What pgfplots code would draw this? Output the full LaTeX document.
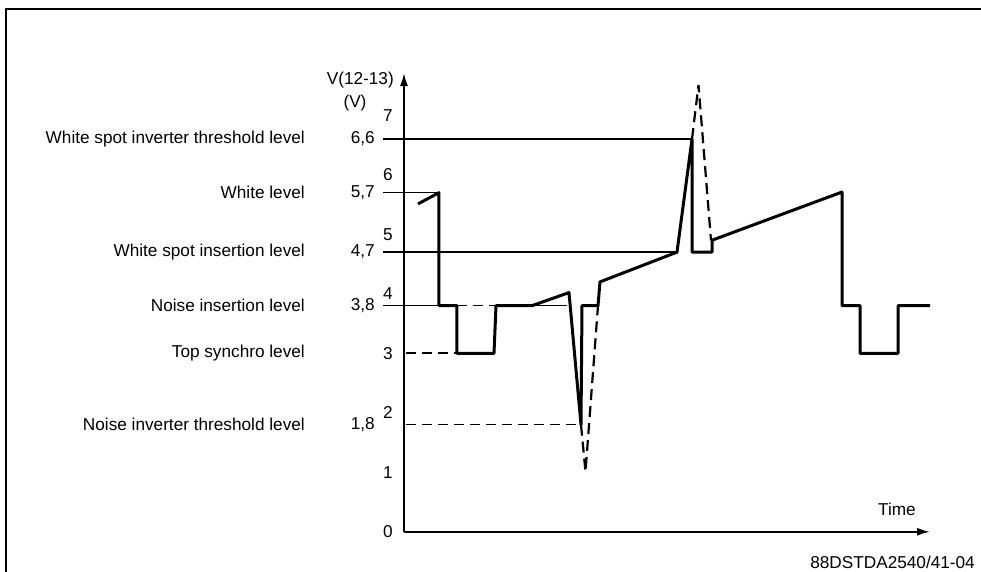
\documentclass[border=0pt]{standalone}
\usepackage{pgfplots}
\pgfplotsset{compat=1.18}
\usepackage{fontspec}
\setmainfont{Liberation Sans}
\usetikzlibrary{arrows.meta}
\begin{document}
\fontsize{17.2}{20}\selectfont
\begin{tikzpicture}
\useasboundingbox (-404pt,-40.2pt) rectangle (577pt,531.8pt);
\draw[line width=2pt] (-398pt,-45pt) -- (-398pt,522.8pt) -- (580pt,522.8pt);
\begin{axis}[
  anchor=origin, at={(0pt,0pt)},
  x=1pt, y=59.5pt,
  xmin=0, xmax=526, ymin=0, ymax=7.71,
  enlargelimits=false,
  axis lines=left,
  x axis line style={line width=1.8pt, -{Latex[length=13pt,width=8pt]}},
  y axis line style={line width=1.8pt, -{Latex[length=13pt,width=8pt]}},
  xtick=\empty,
  ytick={0,1,...,7},
  major tick length=0pt,
  yticklabel style={anchor=east, inner sep=0pt, xshift=-11pt},
  /pgf/number format/assume math mode=true,
  clip=false,
]
% reference levels
\addplot[line width=1.4pt] coordinates {(-21,6.6) (288,6.6)};
\addplot[line width=1.4pt] coordinates {(-21,5.7) (35,5.7)};
\addplot[line width=1.4pt] coordinates {(-21,4.7) (273,4.7)};
\addplot[line width=1.4pt] coordinates {(-21,3.8) (53,3.8)};
\addplot[line width=1.4pt, dash pattern=on 10pt off 6pt] coordinates {(53,3.8) (92,3.8)};
\addplot[line width=1.4pt] coordinates {(92,3.8) (163,3.8)};
\addplot[line width=1.6pt, dash pattern=on 10pt off 6pt] coordinates {(2,3.0) (53,3.0)};
\addplot[line width=1.6pt, dash pattern=on 10pt off 6pt] coordinates {(2,1.8) (177,1.8)};
% dashed inverter excursions
\addplot[line width=2.2pt, dash pattern=on 11pt off 6pt] coordinates {(177,1.8) (181.5,1.01) (194,3.8)};
\addplot[line width=2.2pt, dash pattern=on 11pt off 6pt] coordinates {(288,6.6) (294.5,7.51) (307,4.9)};
% waveform
\addplot[line width=3pt, line join=round] coordinates {
 (14,5.51) (35,5.70) (35,3.8) (53,3.8) (53,3.0) (90,3.0) (92,3.8) (128,3.8)
 (165,4.02) (177,1.8) (178,3.8) (194,3.8) (196,4.2) (273,4.7) (288,6.6)
 (288,4.7) (308,4.7) (308,4.9) (438,5.71) (438,3.8) (456,3.8) (456,3.0)
 (494,3.0) (494,3.8) (526,3.8)};
% level names
\node[anchor=east, inner sep=0pt] at (axis cs:-99,6.6) {White spot inverter threshold level};
\node[anchor=east, inner sep=0pt] at (axis cs:-99,5.7) {White level};
\node[anchor=east, inner sep=0pt] at (axis cs:-99,4.7) {White spot insertion level};
\node[anchor=east, inner sep=0pt] at (axis cs:-99,3.8) {Noise insertion level};
\node[anchor=east, inner sep=0pt] at (axis cs:-99,3.0) {Top synchro level};
\node[anchor=east, inner sep=0pt] at (axis cs:-99,1.8) {Noise inverter threshold level};
% level values
\node[anchor=east, inner sep=0pt] at (axis cs:-29,6.6) {6,6};
\node[anchor=east, inner sep=0pt] at (axis cs:-29,5.7) {5,7};
\node[anchor=east, inner sep=0pt] at (axis cs:-29,4.7) {4,7};
\node[anchor=east, inner sep=0pt] at (axis cs:-29,3.8) {3,8};
\node[anchor=east, inner sep=0pt] at (axis cs:-29,1.8) {1,8};
% axis titles
\node[anchor=east, inner sep=0pt] at (axis cs:-10,7.59) {V(12-13)};
\node[inner sep=0pt] at (axis cs:-49,7.2) {(V)};
\node[inner sep=0pt] at (axis cs:493,0.37) {Time};
\node[anchor=east, inner sep=0pt] at (axis cs:571,-0.51) {88DSTDA2540/41-04};
\end{axis}
\end{tikzpicture}
\end{document}
